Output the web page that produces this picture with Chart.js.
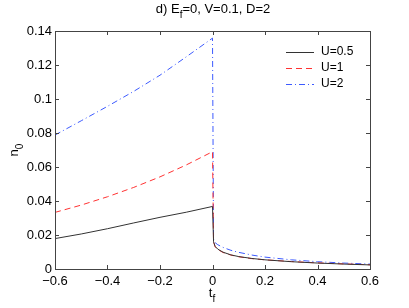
<!DOCTYPE html>
<html>
<head>
<meta charset="utf-8">
<script src="https://cdn.jsdelivr.net/npm/chart.js@4"></script>
<style>
  html, body { margin: 0; padding: 0; background: #fff; }
  canvas { display: block; }
</style>
</head>
<body>
<canvas id="myChart" width="409" height="308"></canvas>
<script>
'use strict';
// t_f values (x) and n_0 for each U
const tValues = [-0.6, -0.5, -0.4, -0.3, -0.2, -0.1, 0, 0.004, 0.01, 0.02, 0.04, 0.07, 0.1, 0.15, 0.2, 0.3, 0.4, 0.5, 0.6];
const u05 = [0.0179, 0.0206, 0.0237, 0.0271, 0.0304, 0.0334, 0.0368, 0.0160, 0.0133, 0.0117, 0.0099, 0.0083, 0.0073, 0.0062, 0.0054, 0.0043, 0.0035, 0.0029, 0.0024];
const u1 = [0.0333, 0.0376, 0.0425, 0.0480, 0.0542, 0.0612, 0.0690, 0.0160, 0.0130, 0.0115, 0.0097, 0.0082, 0.0072, 0.0061, 0.0054, 0.0044, 0.0036, 0.0030, 0.0025];
const u2 = [0.0788, 0.0872, 0.0957, 0.1045, 0.1140, 0.1248, 0.1358, 0.0175, 0.0155, 0.0143, 0.0127, 0.0110, 0.0098, 0.0082, 0.0070, 0.0054, 0.0043, 0.0035, 0.0029];
const seriesLabels = ['U=0.5', 'U=1', 'U=2'];

const xTicks = [-0.6, -0.4, -0.2, 0, 0.2, 0.4, 0.6];
const xTickLabels = ['\u22120.6', '\u22120.4', '\u22120.2', '0', '0.2', '0.4', '0.6'];
const yTicks = [0, 0.02, 0.04, 0.06, 0.08, 0.1, 0.12, 0.14];
const yTickLabels = ['0', '0.02', '0.04', '0.06', '0.08', '0.1', '0.12', '0.14'];

const FONT = 'Liberation Sans, Arial, Helvetica, sans-serif';

function toPoints(ys) {
  return tValues.map((t, i) => ({ x: t, y: ys[i] }));
}

// text with a subscript part, drawn at (x, y) baseline; align center
function subText(ctx, main, sub, rest, x, y, size) {
  ctx.font = size + 'px ' + FONT;
  const w1 = ctx.measureText(main).width;
  const w3 = ctx.measureText(rest).width;
  ctx.font = Math.round(size * 0.75) + 'px ' + FONT;
  const w2 = ctx.measureText(sub).width;
  let cx = x - (w1 + w2 + w3) / 2;
  ctx.textAlign = 'left';
  ctx.textBaseline = 'alphabetic';
  ctx.font = size + 'px ' + FONT;
  ctx.fillText(main, cx, y);
  cx += w1;
  ctx.font = Math.round(size * 0.75) + 'px ' + FONT;
  ctx.fillText(sub, cx, y + size * 0.35);
  cx += w2;
  ctx.font = size + 'px ' + FONT;
  ctx.fillText(rest, cx, y);
}

const matlabFrame = {
  id: 'matlabFrame',
  afterDraw(chart) {
    const ctx = chart.ctx;
    const a = chart.chartArea;
    const xs = chart.scales.x;
    const ys = chart.scales.y;
    ctx.save();
    ctx.strokeStyle = '#444';
    ctx.lineWidth = 1;
    ctx.setLineDash([]);
    // box
    ctx.strokeRect(Math.round(a.left) + 0.5, Math.round(a.top) + 0.5,
      Math.round(a.right - a.left), Math.round(a.bottom - a.top));
    // inward ticks
    const tl = 4;
    ctx.beginPath();
    xTicks.forEach(v => {
      const px = Math.round(xs.getPixelForValue(v)) + 0.5;
      ctx.moveTo(px, a.bottom); ctx.lineTo(px, a.bottom - tl);
      ctx.moveTo(px, a.top); ctx.lineTo(px, a.top + tl);
    });
    yTicks.forEach(v => {
      const py = Math.round(ys.getPixelForValue(v)) + 0.5;
      ctx.moveTo(a.left, py); ctx.lineTo(a.left + tl, py);
      ctx.moveTo(a.right, py); ctx.lineTo(a.right - tl, py);
    });
    ctx.stroke();

    // legend
    ctx.fillStyle = '#000';
    chart.data.datasets.forEach((ds, i) => {
      const y = 52 + i * 16;
      ctx.strokeStyle = ds.borderColor;
      ctx.setLineDash(ds.borderDash || []);
      ctx.beginPath();
      ctx.moveTo(286, y + 0.5);
      ctx.lineTo(314, y + 0.5);
      ctx.stroke();
      ctx.setLineDash([]);
      ctx.font = '12px ' + FONT;
      ctx.textAlign = 'left';
      ctx.textBaseline = 'middle';
      ctx.fillText(ds.label, 321, y);
    });

    // title and axis labels
    ctx.fillStyle = '#000';
    subText(ctx, 'd) E', 'f', '=0, V=0.1, D=2', 213, 13, 13);
    subText(ctx, 't', 'f', '', 212, 297, 13);
    ctx.translate(18, 150);
    ctx.rotate(-Math.PI / 2);
    subText(ctx, 'n', '0', '', 0, 0, 13);
    ctx.restore();
  }
};

const ctx = document.getElementById('myChart').getContext('2d');
const chart = new Chart(ctx, {
  type: 'line',
  data: {
    datasets: [
      {
        label: seriesLabels[0],
        data: toPoints(u05),
        borderColor: '#333',
        borderWidth: 1,
        pointRadius: 0,
        tension: 0
      },
      {
        label: seriesLabels[1],
        data: toPoints(u1),
        borderColor: 'rgb(255,50,50)',
        borderWidth: 1,
        borderDash: [6, 4],
        pointRadius: 0,
        tension: 0
      },
      {
        label: seriesLabels[2],
        data: toPoints(u2),
        borderColor: 'rgb(60,90,255)',
        borderWidth: 1,
        borderDash: [6, 3, 1, 3],
        pointRadius: 0,
        tension: 0
      }
    ]
  },
  plugins: [matlabFrame],
  options: {
    responsive: false,
    devicePixelRatio: 1,
    animation: false,
    layout: { padding: { left: 0, top: 31, right: 39, bottom: 0 } },
    plugins: {
      legend: { display: false },
      title: { display: false },
      tooltip: { enabled: false }
    },
    scales: {
      x: {
        type: 'linear',
        min: -0.6,
        max: 0.6,
        grid: { display: false, drawTicks: false },
        border: { display: false },
        afterBuildTicks: s => { s.ticks = xTicks.map(v => ({ value: v })); },
        afterFit: s => { s.height = 39; },
        ticks: {
          padding: 5,
          maxRotation: 0,
          autoSkip: false,
          color: '#000',
          font: { family: FONT, size: 13 },
          callback: (v, i) => xTickLabels[i]
        }
      },
      y: {
        type: 'linear',
        min: 0,
        max: 0.14,
        grid: { display: false, drawTicks: false },
        border: { display: false },
        afterBuildTicks: s => { s.ticks = yTicks.map(v => ({ value: v })); },
        afterFit: s => { s.width = 55; },
        ticks: {
          padding: 3,
          autoSkip: false,
          color: '#000',
          font: { family: FONT, size: 13 },
          callback: (v, i) => yTickLabels[i]
        }
      }
    }
  }
});
</script>
</body>
</html>
